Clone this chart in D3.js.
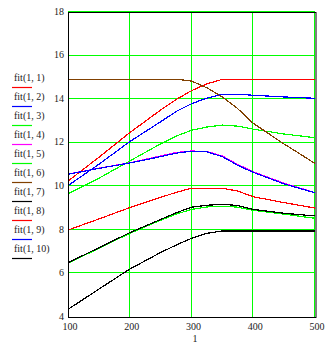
<!DOCTYPE html>
<html><head><meta charset="utf-8">
<script src="https://cdn.jsdelivr.net/npm/d3@7"></script>
<style>
html,body{margin:0;padding:0;background:#fff;}
svg{display:block;}
text{font-family:"Liberation Serif","Times New Roman",serif;fill:#222;}
</style></head>
<body>
<svg id="c" width="334" height="344"></svg>
<script>
const xs = [100,150,200,250,275,300,325,350,375,400,450,500];
const fit1  = [10.24,11.33,12.46,13.50,13.98,14.39,14.70,14.91,14.91,14.91,14.91,14.91];
const fit2  = [10.03,11.01,12.05,12.96,13.43,13.79,14.05,14.22,14.22,14.18,14.10,14.04];
const fit3  = [9.65,10.37,11.16,11.95,12.30,12.57,12.72,12.81,12.76,12.62,12.40,12.23];
const fit4  = [10.56,10.83,11.08,11.39,11.55,11.62,11.60,11.39,11.00,10.67,10.14,9.71];
const fit5  = [6.47,7.15,7.84,8.44,8.72,8.94,9.05,9.09,9.04,8.90,8.72,8.53];
const fit6  = [14.92,14.92,14.92,14.92,14.92,14.83,14.52,14.10,13.56,12.89,11.94,11.05];
const fit7  = [6.49,7.18,7.87,8.48,8.78,9.04,9.13,9.17,9.12,8.94,8.76,8.64];
const fit8  = [7.99,8.50,9.02,9.49,9.72,9.91,9.91,9.91,9.78,9.52,9.25,9.00];
const fit9  = [10.55,10.82,11.07,11.36,11.52,11.61,11.58,11.36,10.96,10.64,10.11,9.70];
const fit10 = [4.35,5.28,6.20,6.96,7.30,7.61,7.84,7.95,7.95,7.95,7.95,7.95];
const seriesNames = ["fit(1, 1)","fit(1, 2)","fit(1, 3)","fit(1, 4)","fit(1, 5)","fit(1, 6)","fit(1, 7)","fit(1, 8)","fit(1, 9)","fit(1, 10)"];
const seriesColors = ["#ff0000","#0000ff","#00ff00","#ff00ff","#00ff00","#804000","#000000","#ff0000","#0000ff","#000000"];
const xTicks = [100,200,300,400,500];
const yTicks = [4,6,8,10,12,14,16,18];
const xTitle = "1";

const series = [fit1,fit2,fit3,fit4,fit5,fit6,fit7,fit8,fit9,fit10];
const svg = d3.select("#c");
const L=68, R=315, T=12, B=317;
const x = d3.scaleLinear().domain([100,500]).range([L,R]);
const y = d3.scaleLinear().domain([4,18]).range([B,T]);

// grid (snapped to pixel centers)
const g = svg.append("g");
g.selectAll(".vg").data(xTicks.slice(1)).enter().append("line")
  .attr("x1",d=>Math.round(x(d))-0.5).attr("x2",d=>Math.round(x(d))-0.5).attr("y1",T).attr("y2",B)
  .attr("stroke","#00ff00").attr("stroke-width",1);
g.selectAll(".hg").data(yTicks.slice(1)).enter().append("line")
  .attr("y1",d=>Math.round(y(d))-0.5).attr("y2",d=>Math.round(y(d))-0.5).attr("x1",L).attr("x2",R)
  .attr("stroke","#00ff00").attr("stroke-width",1);

// lines
const line = d3.line().x((d,i)=>x(xs[i])).y(d=>y(d));
series.forEach((s,i)=>{
  svg.append("path").datum(s).attr("d",line).attr("fill","none")
    .attr("stroke",seriesColors[i]).attr("stroke-width",1.2)
    .attr("shape-rendering","crispEdges");
});

// box
svg.append("rect").attr("x",L+0.5).attr("y",T+0.5).attr("width",R-L+0.5).attr("height",B-T)
  .attr("fill","none").attr("stroke","#000").attr("stroke-width",1);

// axes labels
const ax = d3.axisLeft(y).tickValues(yTicks).tickSize(0).tickPadding(4);
const ay = svg.append("g").attr("transform",`translate(${L},-1)`).call(ax);
ay.select(".domain").remove();
ay.selectAll("text").attr("font-size","10px").attr("font-family","Liberation Serif, serif").attr("fill","#222");
const bx = d3.axisBottom(x).tickValues(xTicks).tickSize(0).tickPadding(6);
const axb = svg.append("g").attr("transform",`translate(1.5,${B})`).call(bx);
axb.select(".domain").remove();
axb.selectAll("text").attr("font-size","10px").attr("font-family","Liberation Serif, serif").attr("fill","#222");

svg.append("text").attr("x",195).attr("y",342).attr("text-anchor","middle")
  .attr("font-size","10px").text(xTitle);

// legend
seriesNames.forEach((n,i)=>{
  const ly = Math.round(87 + i*19.0) + 0.5;
  svg.append("text").attr("x",14).attr("y",ly-7).attr("font-size","10px").text(n);
  svg.append("line").attr("x1",12).attr("x2",32).attr("y1",ly).attr("y2",ly)
    .attr("stroke",seriesColors[i]).attr("stroke-width",1.2);
});
</script>
</body></html>
